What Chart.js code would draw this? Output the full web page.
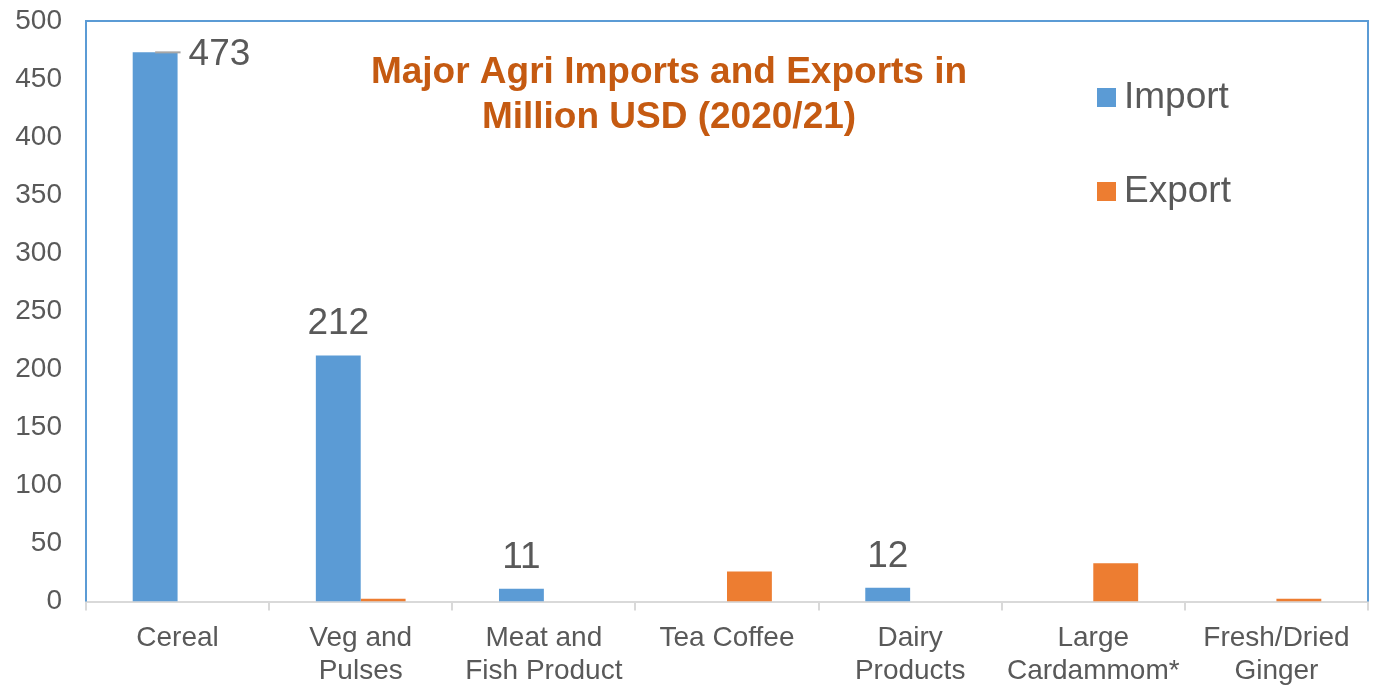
<!DOCTYPE html>
<html>
<head>
<meta charset="utf-8">
<script src="https://cdn.jsdelivr.net/npm/chart.js@4.4.1/dist/chart.umd.min.js"></script>
<style>
  html, body { margin: 0; padding: 0; background: #fff; }
  #wrap { width: 1383px; height: 692px; }
</style>
</head>
<body>
<div id="wrap"><canvas id="barChart"></canvas></div>
<script>
const categories = [
    ['Cereal'],
    ['Veg and', 'Pulses'],
    ['Meat and', 'Fish Product'],
    ['Tea Coffee'],
    ['Dairy', 'Products'],
    ['Large', 'Cardammom*'],
    ['Fresh/Dried', 'Ginger']
];
const importValues = [473, 212, 11, 0, 12, 0, 0];
const exportValues = [0, 2.5, 0, 26, 0, 33, 2.5];
const titleLines = ['Major Agri Imports and Exports in', 'Million USD (2020/21)'];

const textGrey = '#595959';
const fontFamily = '"Liberation Sans", Arial, sans-serif';

// blue frame on top, left and right of the plot
const framePlugin = {
    id: 'frame',
    beforeDatasetsDraw(chart) {
        const { ctx, chartArea: a } = chart;
        ctx.save();
        ctx.strokeStyle = '#5b9bd5';
        ctx.lineWidth = 2;
        ctx.beginPath();
        ctx.moveTo(a.left, a.bottom);
        ctx.lineTo(a.left, a.top);
        ctx.lineTo(a.right, a.top);
        ctx.lineTo(a.right, a.bottom);
        ctx.stroke();
        ctx.restore();
    }
};

// title, legend and value labels drawn inside the plot
const overlayPlugin = {
    id: 'overlay',
    afterDraw(chart) {
        const { ctx } = chart;
        ctx.save();

        // title
        ctx.fillStyle = '#c55a11';
        ctx.font = 'bold 37px ' + fontFamily;
        ctx.textAlign = 'center';
        ctx.textBaseline = 'middle';
        titleLines.forEach((t, i) => ctx.fillText(t, 669, 73 + i * 45));

        // legend
        ctx.font = '37px ' + fontFamily;
        ctx.textAlign = 'left';
        chart.data.datasets.forEach((ds, i) => {
            const y = 97 + i * 94;
            ctx.fillStyle = ds.backgroundColor;
            ctx.fillRect(1097, y - 9, 19, 19);
            ctx.fillStyle = textGrey;
            ctx.fillText(ds.label, 1124, y + 1);
        });

        // value labels on import bars
        const meta = chart.getDatasetMeta(0);
        ctx.font = '37px ' + fontFamily;
        ctx.fillStyle = textGrey;
        ctx.textBaseline = 'alphabetic';
        meta.data.forEach((bar, i) => {
            const v = importValues[i];
            if (!v) return;
            if (i === 0) {
                ctx.strokeStyle = '#a6a6a6';
                ctx.lineWidth = 2;
                ctx.beginPath();
                ctx.moveTo(bar.x, bar.y);
                ctx.lineTo(bar.x + bar.width / 2 + 3, bar.y);
                ctx.stroke();
                ctx.textAlign = 'left';
                ctx.fillText(String(v), bar.x + bar.width / 2 + 11, bar.y + 13);
            } else {
                ctx.textAlign = 'center';
                ctx.fillText(String(v), bar.x, bar.y - 21);
            }
        });
        ctx.restore();
    }
};

const ctxBar = document.getElementById('barChart').getContext('2d');
const barChart = new Chart(ctxBar, {
    type: 'bar',
    data: {
        labels: categories,
        datasets: [{
            label: 'Import',
            data: importValues,
            backgroundColor: '#5b9bd5',
            barPercentage: 1,
            categoryPercentage: 0.49
        },
        {
            label: 'Export',
            data: exportValues,
            backgroundColor: '#ed7d31',
            barPercentage: 1,
            categoryPercentage: 0.49
        }]
    },
    options: {
        responsive: true,
        maintainAspectRatio: false,
        animation: false,
        layout: {
            padding: { left: 14, right: 15, top: 0, bottom: -7 }
        },
        plugins: {
            legend: { display: false },
            title: { display: false },
            tooltip: { enabled: false }
        },
        scales: {
            x: {
                grid: {
                    display: true,
                    offset: true,
                    drawOnChartArea: false,
                    drawTicks: true,
                    tickLength: 9,
                    color: '#d9d9d9',
                    lineWidth: 2
                },
                border: { display: true, color: '#d9d9d9', width: 2 },
                ticks: {
                    color: textGrey,
                    font: { family: fontFamily, size: 28, lineHeight: 1.15 },
                    padding: 12,
                    maxRotation: 0,
                    autoSkip: false
                }
            },
            y: {
                min: 0,
                max: 500,
                grid: { display: false, drawTicks: false, tickLength: 0 },
                border: { display: false },
                afterFit(scale) {
                    scale.width = 72;
                    scale.paddingTop = 21;
                    scale.paddingBottom = 0;
                },
                ticks: {
                    stepSize: 50,
                    color: textGrey,
                    font: { family: fontFamily, size: 28 },
                    padding: 24
                }
            }
        }
    },
    plugins: [framePlugin, overlayPlugin]
});
</script>
</body>
</html>
